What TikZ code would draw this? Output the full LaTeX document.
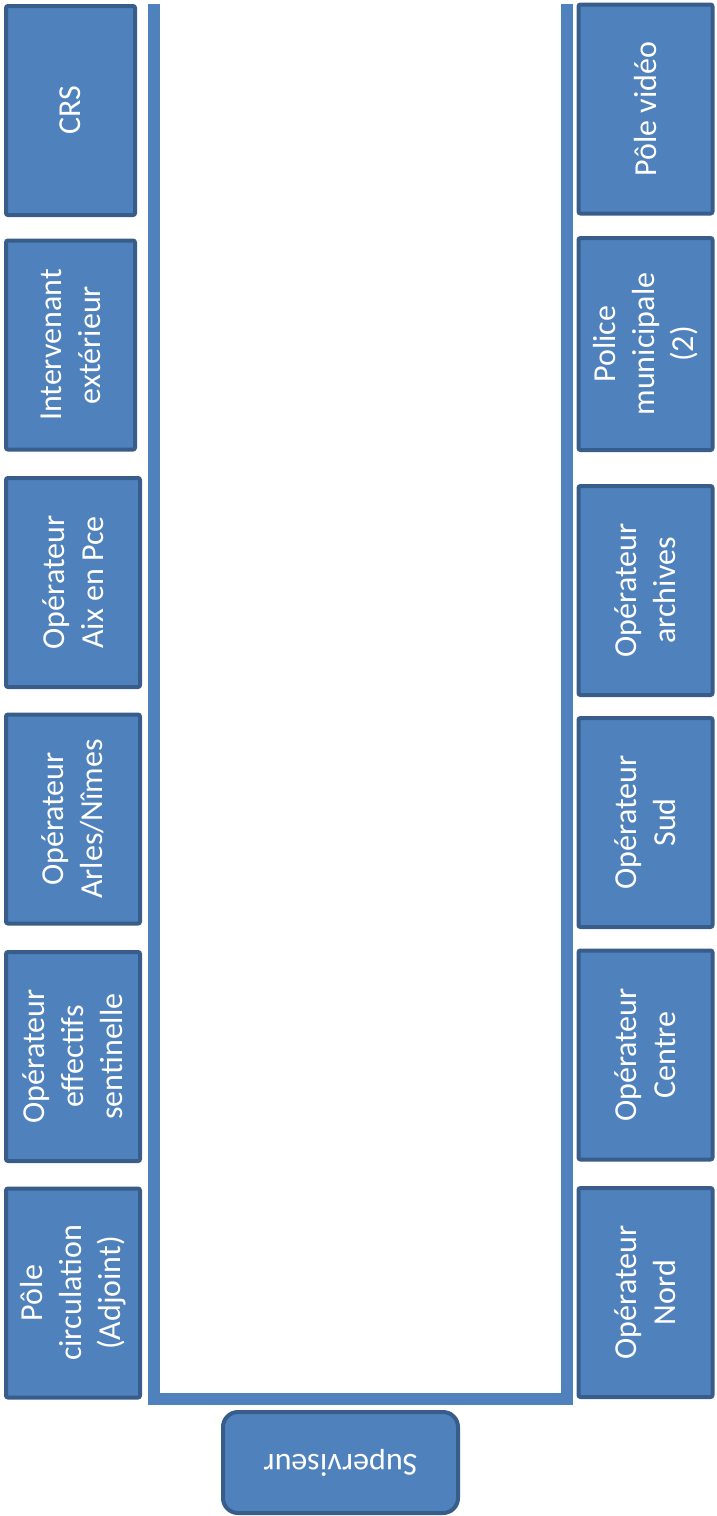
\documentclass[tikz,border=0pt]{standalone}
\usepackage{fontspec}
\setmainfont{Carlito}
\definecolor{boxfill}{HTML}{4F81BD}
\definecolor{boxline}{HTML}{385D8A}
\begin{document}
\begin{tikzpicture}[x=1pt, y=-1pt, line width=4pt,
                poste/.style={rectangle, draw=boxline, fill=boxfill, rounded corners=2pt, rotate=90,
                    minimum width=209pt, minimum height=134pt, align=center, text=white,
                    font=\fontsize{32}{39}\selectfont, inner sep=0pt},
                superv/.style={rectangle, draw=boxline, fill=boxfill, rounded corners=15pt, rotate=180,
                    minimum width=235pt, minimum height=101pt, text=white,
                    font=\fontsize{32}{39}\selectfont}
            ]
            \useasboundingbox (0,0) rectangle (716,1516);

            % Table
            \draw[boxfill, line width=12pt] (154,4) -- (154,1399) -- (567,1399) -- (567,4);

            % Left column
            \node[poste, minimum height=129pt] (crs) at (70.5, 110.5) {CRS};
            \node[poste, minimum height=129pt] (interv) at (70.5, 345) {Intervenant\\extérieur};
            \node[poste] (aix) at (73, 582.5) {Opérateur\\Aix en Pce};
            \node[poste] (arles) at (73, 819) {Opérateur\\Arles/Nîmes};
            \node[poste] (senti) at (73, 1056.5) {Opérateur\\effectifs\\sentinelle};
            \node[poste] (circ) at (73, 1293) {Pôle\\circulation\\(Adjoint)};

            % Right column
            \node[poste] (video) at (645.5, 109) {Pôle vidéo};
            \node[poste, minimum width=212pt] (police) at (645.5, 344) {Police\\municipale\\(2)};
            \node[poste] (archives) at (645.5, 590.5) {Opérateur\\archives};
            \node[poste] (sud) at (645.5, 822.5) {Opérateur\\Sud};
            \node[poste] (centre) at (645.5, 1055) {Opérateur\\Centre};
            \node[poste] (nord) at (645.5, 1292.5) {Opérateur\\Nord};

            % Supervisor
            \node[superv] (sup) at (340.5, 1462.5) {Superviseur};

        \end{tikzpicture}
\end{document}
